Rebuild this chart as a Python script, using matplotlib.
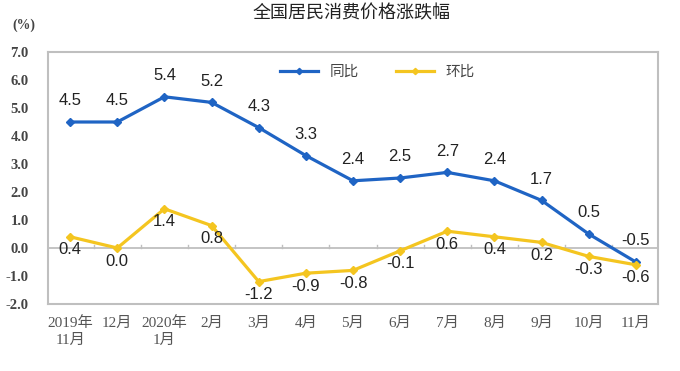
import matplotlib
matplotlib.use("Agg")
import matplotlib.pyplot as plt

plt.rcParams['font.family'] = ['Liberation Sans', 'Noto Sans CJK SC', 'DejaVu Sans']

months = ["2019年\n11月", "12月", "2020年\n1月", "2月", "3月", "4月", "5月",
          "6月", "7月", "8月", "9月", "10月", "11月"]
yoy = [4.5, 4.5, 5.4, 5.2, 4.3, 3.3, 2.4, 2.5, 2.7, 2.4, 1.7, 0.5, -0.5]
mom = [0.4, 0.0, 1.4, 0.8, -1.2, -0.9, -0.8, -0.1, 0.6, 0.4, 0.2, -0.3, -0.6]

blue = "#1F64C4"
yellow = "#F4C520"
grey = "#BFBFBF"
serif = ['Liberation Serif', 'Noto Sans CJK SC']

fig = plt.figure(figsize=(6.8, 3.71), dpi=100)
ax = fig.add_axes([48 / 680, 1 - 304 / 371, 610 / 680, 252 / 371])

x = list(range(len(months)))
ax.plot(x, yoy, color=blue, lw=2.3, marker="D", ms=4, label="同比")
ax.plot(x, mom, color=yellow, lw=2.3, marker="D", ms=4, label="环比")

for i, v in enumerate(yoy):
    ax.annotate(f"{v:.1f}", (i, v), xytext=(0, 10), textcoords="offset points",
                ha="center", va="bottom", fontsize=12, color="#222222")
for i, v in enumerate(mom):
    ax.annotate(f"{v:.1f}", (i, v), xytext=(0, -4), textcoords="offset points",
                ha="center", va="top", fontsize=12, color="#222222")

ax.set_xlim(-0.47, len(months) - 0.53)
ax.set_ylim(-2, 7)
ax.set_yticks(range(-2, 8))
ax.set_yticklabels([f"{v:.1f}" for v in range(-2, 8)], family="Liberation Serif",
                   fontsize=10.5, fontweight="bold", color="#444444")
ax.set_xticks(x)
ax.set_xticklabels(months, fontsize=11, color="#555555", linespacing=1.3,
                   family=serif)
ax.tick_params(axis="y", length=0, pad=14)
ax.tick_params(axis="x", length=0, pad=9)

for s in ax.spines.values():
    s.set_color(grey)
    s.set_linewidth(1.5)

ax.axhline(0, color=grey, lw=1.3, zorder=0)
for b in range(len(months) + 1):
    ax.plot([b - 0.5, b - 0.5], [0, 0.12], color=grey, lw=1, zorder=0)

ax.legend(loc="upper center", bbox_to_anchor=(0.54, 1.0), ncol=2, frameon=False,
          fontsize=10.5, handlelength=2.6, columnspacing=2.5, labelcolor="#444444",
          markerscale=0.8)

fig.text(352 / 680, 1 - 14 / 371, "全国居民消费价格涨跌幅", ha="center", va="center",
         fontsize=13, color="#222222")
fig.text(24 / 680, 1 - 25 / 371, "(%)", ha="center", va="center",
         fontsize=10, family="Liberation Serif", fontweight="bold", color="#444444")

fig.savefig("out.png", dpi=100)
